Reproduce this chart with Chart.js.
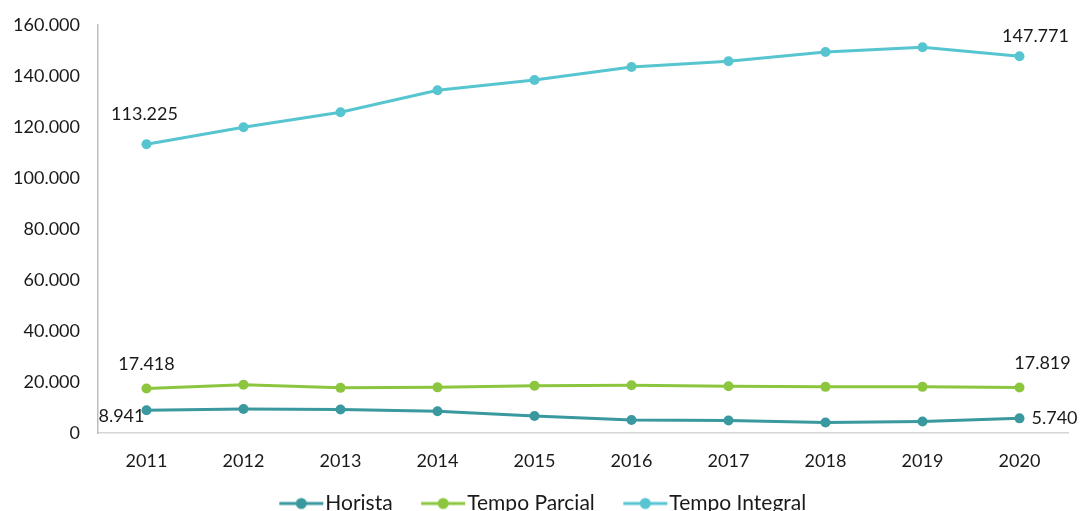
<!DOCTYPE html>
<html>
<head>
<meta charset="utf-8">
<script src="https://cdn.jsdelivr.net/npm/chart.js@4.4.0/dist/chart.umd.min.js"></script>
<style>
    html, body { margin: 0; padding: 0; background: #fff; overflow: hidden; }
    #wrap { width: 1080px; height: 524px; }
</style>
</head>
<body>
<div id="wrap"><canvas id="chart"></canvas></div>
<script>
// Data
const years = ['2011', '2012', '2013', '2014', '2015', '2016', '2017', '2018', '2019', '2020'];
const horista = [8941, 9400, 9200, 8500, 6700, 5100, 4900, 4100, 4500, 5740];
const tempoParcial = [17418, 18900, 17700, 17900, 18500, 18700, 18300, 18100, 18100, 17819];
const tempoIntegral = [113225, 119900, 125800, 134400, 138400, 143500, 145800, 149400, 151300, 147771];
const yTicks = [0, 20000, 40000, 60000, 80000, 100000, 120000, 140000, 160000];

const colors = {
    horista: '#3a989f',
    parcial: '#8cc63f',
    integral: '#56c5d0'
};

function fmt(v) {
    return String(v).replace(/\B(?=(\d{3})+(?!\d))/g, '.');
}

// legend marker: short line with a dot, drawn at the right end of the image
// so it sits right next to the label text
const MARK_W = 62;
function legendMarker(color) {
    const c = document.createElement('canvas');
    c.width = MARK_W;
    c.height = 14;
    const g = c.getContext('2d');
    const x0 = MARK_W - 45;
    g.strokeStyle = color;
    g.lineWidth = 3;
    g.beginPath();
    g.moveTo(x0, 7);
    g.lineTo(MARK_W - 1, 7);
    g.stroke();
    g.fillStyle = color;
    g.beginPath();
    g.arc(x0 + 22, 7, 5.5, 0, Math.PI * 2);
    g.fill();
    return c;
}

// labels on first and last points only
const endLabels = {
    id: 'endLabels',
    afterDatasetsDraw(chart) {
        const ctx = chart.ctx;
        ctx.save();
        ctx.font = '18px Lato';
        ctx.fillStyle = '#1a1a1a';
        ctx.textBaseline = 'middle';
        const place = [
            // [dataset, index, dx, dy, align]
            [0, 0, -2, 6, 'right'],
            [0, 9, 12, 0, 'left'],
            [1, 0, 0, -24, 'center'],
            [1, 9, 23, -24, 'center'],
            [2, 0, -2, -30, 'center'],
            [2, 9, 16, -20, 'center']
        ];
        place.forEach(function(p) {
            const pt = chart.getDatasetMeta(p[0]).data[p[1]];
            const val = chart.data.datasets[p[0]].data[p[1]];
            ctx.textAlign = p[4];
            ctx.fillText(fmt(val), pt.x + p[2], pt.y + p[3]);
        });
        ctx.restore();
    }
};

function series(label, data, color) {
    return {
        label: label,
        data: data,
        borderColor: color,
        backgroundColor: color,
        borderWidth: 3,
        pointRadius: 5,
        pointHoverRadius: 5,
        pointBorderWidth: 0,
        tension: 0
    };
}

function draw() {
    new Chart(document.getElementById('chart'), {
        type: 'line',
        data: {
            labels: years,
            datasets: [
                series('Horista', horista, colors.horista),
                series('Tempo Parcial', tempoParcial, colors.parcial),
                series('Tempo Integral', tempoIntegral, colors.integral)
            ]
        },
        options: {
            responsive: true,
            maintainAspectRatio: false,
            animation: false,
            layout: {
                padding: { top: 0, right: 12, left: 10, bottom: 0 }
            },
            plugins: {
                legend: {
                    position: 'bottom',
                    labels: {
                        font: { family: 'Lato', size: 21 },
                        color: '#1a1a1a',
                        usePointStyle: true,
                        pointStyleWidth: 43,
                        padding: 21,
                        generateLabels: function(chart) {
                            return chart.data.datasets.map(function(ds, i) {
                                return {
                                    text: ds.label,
                                    fillStyle: ds.borderColor,
                                    strokeStyle: ds.borderColor,
                                    fontColor: '#1a1a1a',
                                    pointStyle: legendMarker(ds.borderColor),
                                    datasetIndex: i,
                                    hidden: false,
                                    lineWidth: 0
                                };
                            });
                        }
                    }
                },
                tooltip: { enabled: false }
            },
            scales: {
                x: {
                    offset: true,
                    grid: { display: false, drawTicks: false },
                    border: { display: true, color: '#d6d6d6', width: 1.5 },
                    afterFit: function(axis) { axis.height = 39; },
                    ticks: {
                        font: { family: 'Lato', size: 18 },
                        color: '#1a1a1a',
                        padding: 17,
                        maxRotation: 0
                    }
                },
                y: {
                    min: 0,
                    max: 160000,
                    grid: { display: false, drawTicks: false },
                    border: { display: true, color: '#bdbdbd', width: 1.5 },
                    afterFit: function(axis) {
                        axis.width = 88;
                        axis.paddingTop = 25;
                    },
                    afterBuildTicks: function(axis) {
                        axis.ticks = yTicks.map(function(v) { return { value: v }; });
                    },
                    ticks: {
                        font: { family: 'Lato', size: 18 },
                        color: '#1a1a1a',
                        padding: 18,
                        callback: function(v) { return fmt(v); }
                    }
                }
            }
        },
        plugins: [endLabels]
    });
}

// make sure Lato is ready before Chart.js measures text
Promise.all([
    document.fonts.load('18px Lato'),
    document.fonts.load('21px Lato')
]).then(draw, draw);
</script>
</body>
</html>
